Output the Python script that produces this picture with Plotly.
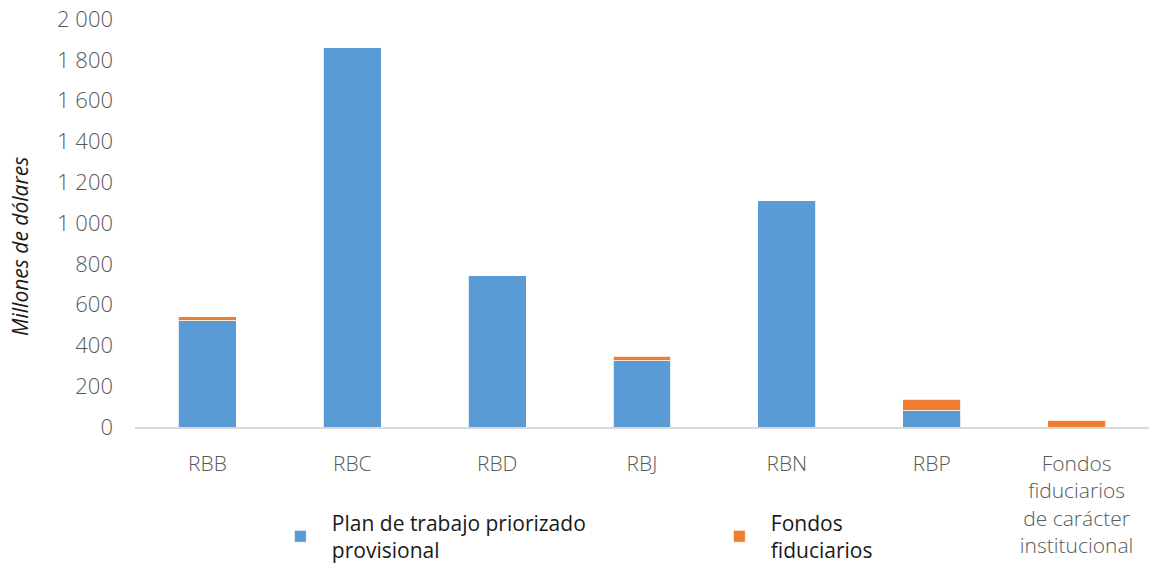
import plotly.graph_objects as go

# Regional bureaus and institutional trust funds (millions of USD)
categories = ["RBB", "RBC", "RBD", "RBJ", "RBN", "RBP",
              "Fondos<br>fiduciarios<br>de carácter<br>institucional"]
plan_priorizado = [520, 1858, 745, 325, 1108, 80, 0]
fondos_fiduciarios = [20, 4, 2, 22, 2, 56, 33]

y_ticks = [0, 200, 400, 600, 800, 1000, 1200, 1400, 1600, 1800, 2000]

BLUE = "#5b9bd5"
ORANGE = "#ed7d31"
FONT = "Open Sans"

fig = go.Figure()
fig.add_trace(go.Bar(
    x=categories, y=plan_priorizado,
    name="Plan de trabajo priorizado<br>provisional",
    marker=dict(color=BLUE, line=dict(color="#ffffff", width=0.8)),
))
fig.add_trace(go.Bar(
    x=categories, y=fondos_fiduciarios,
    name="Fondos<br>fiduciarios",
    marker=dict(color=ORANGE, line=dict(color="#ffffff", width=0.8)),
))

# Vertical axis title, placed slightly below the centre of the plot area
fig.add_annotation(
    text="<i>Millones de dólares</i>",
    xref="paper", yref="paper",
    x=-0.1134, y=0.441,
    xanchor="center", yanchor="middle",
    textangle=-90, showarrow=False,
    font=dict(family=FONT, size=21, color="#1a1a1a"),
)

fig.update_layout(
    barmode="stack",
    bargap=0.6,
    width=1150, height=581,
    margin=dict(l=135, r=1, t=19, b=154, autoexpand=False),
    paper_bgcolor="white",
    plot_bgcolor="white",
    separators=", ",
    font=dict(family=FONT, color="#595959", size=18),
    showlegend=True,
    legend=dict(
        orientation="h",
        x=0.132, xanchor="left",
        y=-0.185, yanchor="top",
        bgcolor="rgba(0,0,0,0)",
        entrywidth=371, entrywidthmode="pixels",
        itemwidth=53,
        font=dict(family=FONT, size=21, color="#1a1a1a"),
        traceorder="normal",
    ),
    xaxis=dict(
        showline=True, linecolor="#d9d9d9", linewidth=1.5,
        ticks="", showgrid=False,
        tickfont=dict(family=FONT, size=21, color="#595959", weight=300),
        ticklabelstandoff=17,
    ),
    yaxis=dict(
        range=[0, 2000],
        tickvals=y_ticks,
        tickformat=",d",
        showgrid=False, zeroline=False, showline=False,
        ticks="",
        tickfont=dict(family=FONT, size=22, color="#595959", weight=300),
        ticklabelstandoff=21,
    ),
)

fig.write_html("out.html")
